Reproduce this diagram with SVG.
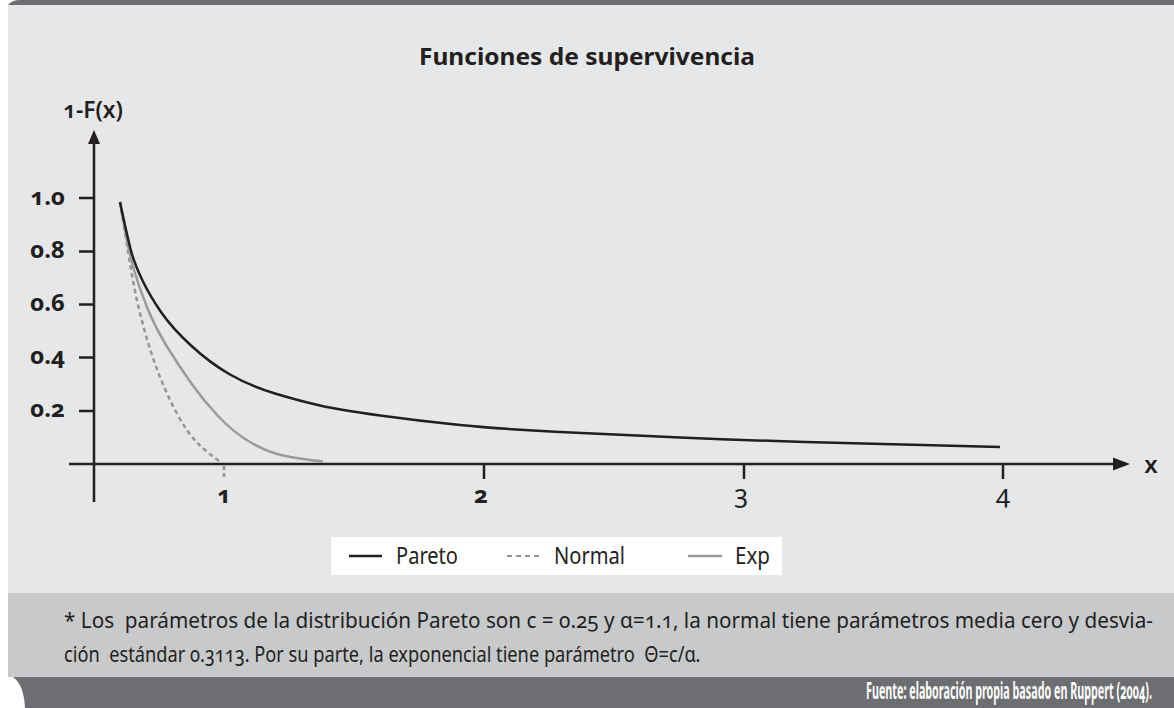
<svg xmlns="http://www.w3.org/2000/svg" width="1174" height="708" viewBox="0 0 1174 708">
<style>
  text { font-family: "Noto Sans", "Open Sans", "Liberation Sans", sans-serif; fill: #231f20; font-variant-numeric: oldstyle-nums; }
  .ttl { font-size: 24px; font-weight: 700; }
  .lab { font-size: 24px; font-weight: 700; }
  .tickb { font-size: 24px; font-weight: 700; }
  .tick { font-size: 26px; }
  .leg { font-size: 23px; }
  .note { font-size: 22px; }
  .src { font-size: 23px; font-weight: 700; fill: #ffffff; }
  .axis { stroke: #231f20; stroke-width: 2.5; fill: none; }
  .pareto { stroke: #231f20; stroke-width: 2.5; fill: none; }
  .normal { stroke: #939598; stroke-width: 2.5; fill: none; stroke-dasharray: 4.5 3.5; }
  .exp { stroke: #9a9b9d; stroke-width: 2.5; fill: none; }
</style>
<rect width="1174" height="708" fill="#ffffff"/>
<!-- top bar -->
<path d="M20,0 H1174 V5 H8 Q12,0 20,0 Z" fill="#6d6e71"/>
<!-- panel -->
<rect x="8" y="5" width="1166" height="588" fill="#e6e7e8"/>
<rect x="8" y="593" width="1166" height="84" fill="#c8c9cb"/>
<!-- bottom bar -->
<path d="M13,677 H1174 V708 H25 Q24,685 13,677 Z" fill="#6d6e71"/>

<g id="title"><text class="ttl" x="587" y="65" text-anchor="middle" textLength="336" lengthAdjust="spacingAndGlyphs">Funciones de supervivencia</text></g>

<g id="axes">
  <line class="axis" x1="94" y1="142" x2="94" y2="502"/>
  <polygon points="94,130 88,144 100,144" fill="#231f20"/>
  <line class="axis" x1="69" y1="464" x2="1115" y2="464"/>
  <polygon points="1130,464 1113,457.5 1113,470.5" fill="#231f20"/>
  <line class="axis" x1="79" y1="198" x2="94" y2="198"/>
  <line class="axis" x1="79" y1="251.5" x2="94" y2="251.5"/>
  <line class="axis" x1="79" y1="304.5" x2="94" y2="304.5"/>
  <line class="axis" x1="79" y1="357.5" x2="94" y2="357.5"/>
  <line class="axis" x1="79" y1="411" x2="94" y2="411"/>
  <line x1="224" y1="466" x2="224" y2="478" stroke="#939598" stroke-width="2.5" stroke-dasharray="4 3"/>
  <line class="axis" x1="484" y1="464" x2="484" y2="479"/>
  <line class="axis" x1="744" y1="464" x2="744" y2="479"/>
  <line class="axis" x1="1003" y1="464" x2="1003" y2="479"/>
  <text class="lab" x="63" y="118" textLength="60" lengthAdjust="spacingAndGlyphs" style="font-weight:600">1-F(x)</text>
  <text class="lab" x="65" y="205" text-anchor="end">1.0</text>
  <text class="lab" x="65" y="258" text-anchor="end">0.8</text>
  <text class="lab" x="65" y="311" text-anchor="end">0.6</text>
  <text class="lab" x="65" y="364" text-anchor="end">0.4</text>
  <text class="lab" x="65" y="417" text-anchor="end">0.2</text>
  <text class="tickb" x="224" y="503" text-anchor="middle">1</text>
  <text class="tickb" x="481" y="503" text-anchor="middle">2</text>
  <text class="tick" x="741" y="503" text-anchor="middle">3</text>
  <text class="tick" x="1003" y="503" text-anchor="middle">4</text>
  <text class="lab" x="1151" y="473" text-anchor="middle" style="font-size:24px;font-weight:600">x</text>
</g>

<g id="curves">
  <path class="normal" d="M120,202 Q127,245 130.5,266.5 Q134,288 138.5,307 Q143,326 148.5,344 Q154,362 161,379.5 Q168,397 177.5,414.5 Q187,432 197,442.5 Q207,453 222,463"/>
  <path class="exp" d="M120,202 Q128,250 134,270 Q140,290 147.5,308.5 Q155,327 166,345 Q177,363 190,381.5 Q203,400 218,416 Q233,432 250,442 Q267,452 283,455.5 Q300,459 323,461.5"/>
  <path class="pareto" d="M120,202 Q128,240 131.5,252.5 Q135,265 142.5,280.5 Q150,296 161,312 Q172,328 191,345.5 Q210,363 230,374.5 Q250,386 275,393.5 Q300,401 320,405.5 Q340,410 380,415.5 Q420,421 460,425 Q500,429 560,432 Q620,435 680,437.5 Q740,440 805,442 Q870,444 1000,447"/>
</g>

<g id="legend">
  <rect x="331" y="537" width="451" height="38" fill="#ffffff"/>
  <line x1="349" y1="556" x2="382" y2="556" stroke="#231f20" stroke-width="2.5"/>
  <text class="leg" x="396" y="564" textLength="62" lengthAdjust="spacingAndGlyphs">Pareto</text>
  <line x1="507" y1="556" x2="540" y2="556" stroke="#939598" stroke-width="2" stroke-dasharray="5 4"/>
  <text class="leg" x="554" y="564" textLength="71" lengthAdjust="spacingAndGlyphs">Normal</text>
  <line x1="688" y1="556" x2="722" y2="556" stroke="#9a9b9d" stroke-width="2.5"/>
  <text class="leg" x="735" y="564" textLength="35" lengthAdjust="spacingAndGlyphs">Exp</text>
</g>

<g id="footnote">
  <text class="note" transform="translate(64,628) scale(0.9,1)" x="0" y="0" xml:space="preserve" textLength="1210" lengthAdjust="spacingAndGlyphs">* Los  parámetros de la distribución Pareto son c = 0.25 y α=1.1, la normal tiene parámetros media cero y desvia-</text>
  <text class="note" transform="translate(64,662) scale(0.9,1)" x="0" y="0" xml:space="preserve" textLength="707" lengthAdjust="spacingAndGlyphs">ción  estándar 0.3113. Por su parte, la exponencial tiene parámetro  Θ=c/α.</text>
</g>

<g id="source">
  <text class="src" transform="translate(1152,699) scale(0.5,1)" x="0" y="0" text-anchor="end" textLength="572" lengthAdjust="spacingAndGlyphs">Fuente: elaboración propia basado en Ruppert (2004).</text>
</g>
</svg>
